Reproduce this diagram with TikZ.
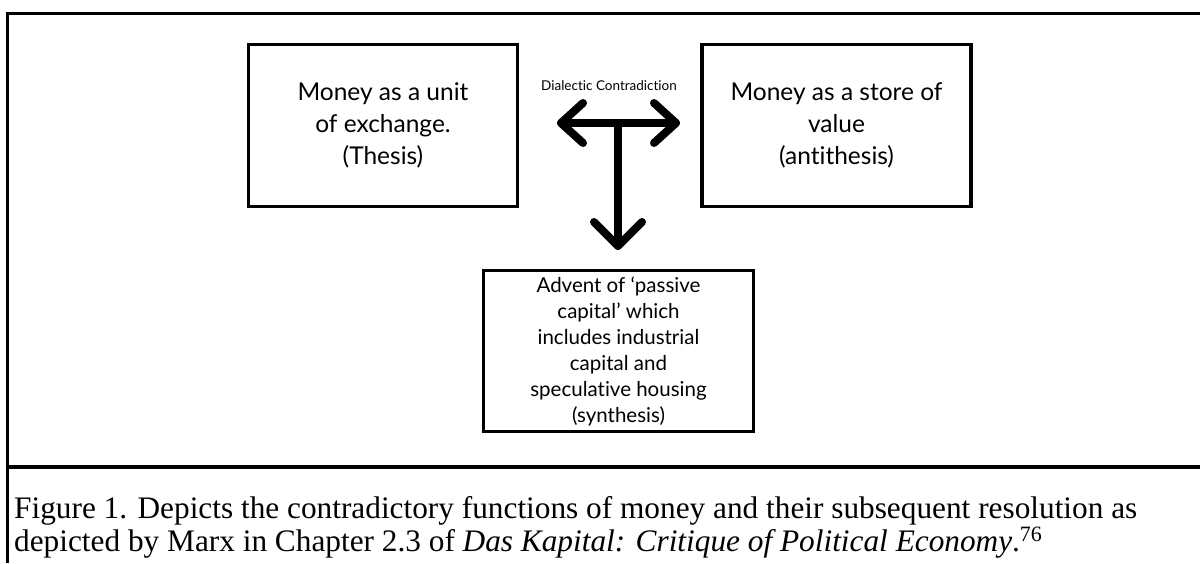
\documentclass[tikz,border=0pt]{standalone}
\usepackage{fontspec}
\setmainfont{Liberation Serif}
\newfontfamily\boxfont[Ligatures={NoCommon,NoRare}]{Lato}
\begin{document}
\begin{tikzpicture}[x=1pt,y=-1pt,
  frameline/.style={line width=3pt},
  cbox/.style={draw, line width=3.5pt, minimum width=269pt, minimum height=162pt, inner sep=0pt, outer sep=0pt, align=center, font=\boxfont\fontsize{24.5}{32}\selectfont},
  sbox/.style={cbox, minimum width=270pt, minimum height=161pt, font=\boxfont\fontsize{20.5}{26}\selectfont},
  bigarrow/.style={line width=8pt, line cap=round, line join=round},
  lbl/.style={font=\boxfont\fontsize{13.5}{15}\selectfont, inner sep=0pt},
  captext/.style={font=\fontsize{31.3}{33}\selectfont, inner sep=0pt, anchor=base west}
]
\useasboundingbox (0,0) rectangle (1200,563);
% frame
\coordinate (ftl) at (7.5,13.5);
\coordinate (ftr) at (1200,13.5);
\coordinate (fbl) at (7.5,563);
\coordinate (sl) at (7.5,467);
\coordinate (sr) at (1200,467);
\draw[frameline] (ftr) -- (ftl) -- (fbl);
\draw[line width=3.5pt] (sl) -- (sr);
% boxes
\node[cbox] (thesis) at (383,125.5) {Money as a unit\\of exchange.\\(Thesis)};
\node[cbox] (anti) at (836.5,125.5) {Money as a store of\\value\\(antithesis)};
\node[sbox] (syn) at (618.5,351) {Advent of ‘passive\\capital’ which\\includes industrial\\capital and\\speculative housing\\(synthesis)};
% arrows
\coordinate (j) at (618,123);
\coordinate (lt) at (561,123);
\coordinate (rt) at (676,123);
\coordinate (dt) at (618,246);
\draw[bigarrow] (lt) -- (rt);
\draw[bigarrow] (j) -- (dt);
\draw[bigarrow] ([shift={(22,-20)}]lt) -- (lt) -- ([shift={(22,20)}]lt);
\draw[bigarrow] ([shift={(-22,-20)}]rt) -- (rt) -- ([shift={(-22,20)}]rt);
\draw[bigarrow] ([shift={(-24,-24)}]dt) -- (dt) -- ([shift={(24,-24)}]dt);
\node[lbl, anchor=base] (dc) at (609,90) {Dialectic Contradiction};
% caption
\node[captext] (c1) at (14,518) {Figure 1. Depicts the contradictory functions of money and their subsequent resolution as};
\node[captext] (c2) at (14,551) {depicted by Marx in Chapter 2.3 of \textit{Das Kapital: Critique of Political Economy}.\textsuperscript{76}};
\end{tikzpicture}
\end{document}
